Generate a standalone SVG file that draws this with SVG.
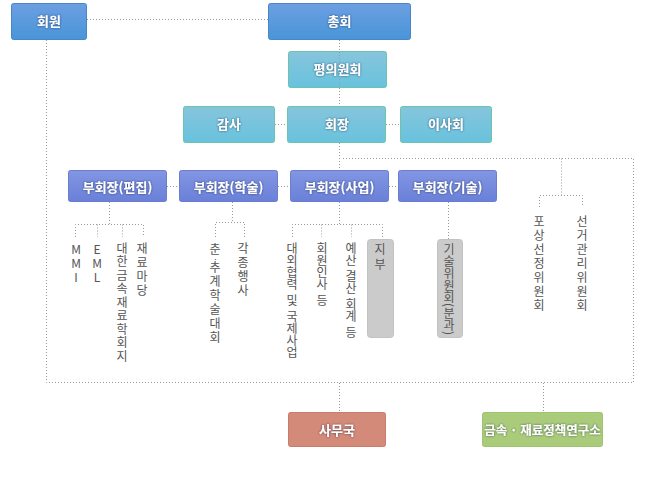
<svg xmlns="http://www.w3.org/2000/svg" width="650" height="478" viewBox="0 0 650 478">
<defs>
<linearGradient id="gBlue" x1="0" y1="0" x2="0" y2="1"><stop offset="0" stop-color="#6c9fe2"/><stop offset="1" stop-color="#4895d8"/></linearGradient>
<linearGradient id="gCyan" x1="0" y1="0" x2="0" y2="1"><stop offset="0" stop-color="#86c5dc"/><stop offset="1" stop-color="#68c2dd"/></linearGradient>
<linearGradient id="gViolet" x1="0" y1="0" x2="0" y2="1"><stop offset="0" stop-color="#8296e2"/><stop offset="1" stop-color="#6a80d8"/></linearGradient>
<filter id="sh" x="-20%" y="-40%" width="140%" height="180%"><feDropShadow dx="0" dy="0" stdDeviation="1" flood-color="#1a2a50" flood-opacity="0.75"/></filter>
</defs>
<style>
.blue{fill:url(#gBlue);stroke:#4a86c6;stroke-width:1}
.cyan{fill:url(#gCyan);stroke:#6cc4ae;stroke-width:1}
.violet{fill:url(#gViolet);stroke:#6a7dcf;stroke-width:1}
.red{fill:#d48a78;stroke:#c97c6b;stroke-width:1}
.green{fill:#aacc7a;stroke:#9dc46e;stroke-width:1}
.gray{fill:#cbcbcb;stroke:#c2c2c2;stroke-width:1}
.lbl{font-family:"Noto Sans CJK KR","Noto Sans",sans-serif;font-size:13px;font-weight:bold;fill:#fff;text-anchor:middle;dominant-baseline:central;filter:url(#sh)}
.vt{font-family:"Noto Sans CJK KR","Noto Sans",sans-serif;font-size:12px;fill:#555;writing-mode:vertical-rl}
.up{text-orientation:upright}
.ws{word-spacing:1.5px}
.dot{fill:none;stroke:#9a9a9a;stroke-width:1;stroke-dasharray:1 2}
</style>
<g id="n-member"><rect class="blue" x="11.5" y="3.5" width="75" height="36" rx="2"/><text class="lbl" x="49" y="20">회원</text></g>
<g id="n-general"><rect class="blue" x="268.5" y="3.5" width="142" height="36" rx="2"/><text class="lbl" x="339.5" y="20">총회</text></g>
<g id="n-council"><rect class="cyan" x="288.5" y="51.5" width="98" height="36" rx="2"/><text class="lbl" x="337.5" y="68">평의원회</text></g>
<g id="n-audit"><rect class="cyan" x="183.5" y="106.5" width="91" height="36" rx="2"/><text class="lbl" x="229" y="123">감사</text></g>
<g id="n-president"><rect class="cyan" x="287.5" y="106.5" width="98" height="36" rx="2"/><text class="lbl" x="337" y="123">회장</text></g>
<g id="n-board"><rect class="cyan" x="400.5" y="106.5" width="91" height="36" rx="2"/><text class="lbl" x="446" y="123">이사회</text></g>
<g id="n-vp-edit"><rect class="violet" x="68.5" y="170.5" width="98" height="31" rx="2"/><text class="lbl" x="117.5" y="186">부회장(편집)</text></g>
<g id="n-vp-acad"><rect class="violet" x="179.5" y="170.5" width="98" height="31" rx="2"/><text class="lbl" x="228.5" y="186">부회장(학술)</text></g>
<g id="n-vp-biz"><rect class="violet" x="290.5" y="170.5" width="98" height="31" rx="2"/><text class="lbl" x="339.5" y="186">부회장(사업)</text></g>
<g id="n-vp-tech"><rect class="violet" x="398.5" y="170.5" width="98" height="31" rx="2"/><text class="lbl" x="447.5" y="186">부회장(기술)</text></g>
<g id="n-office"><rect class="red" x="288.5" y="412.5" width="97" height="34" rx="2"/><text class="lbl" x="337" y="429.5">사무국</text></g>
<g id="n-institute"><rect class="green" x="482.5" y="412.5" width="120" height="34" rx="2"/><text class="lbl" x="542.5" y="429.5" style="font-size:12.5px">금속 · 재료정책연구소</text></g>
<g id="n-mmi"><text class="vt up" x="76" y="243" style="letter-spacing:2px">MMI</text></g>
<g id="n-eml"><text class="vt up" x="97" y="243" style="letter-spacing:2px">EML</text></g>
<g id="n-journal"><text class="vt" x="122" y="242" style="letter-spacing:1.5px">대한금속재료학회지</text></g>
<g id="n-madang"><text class="vt" x="142" y="242" style="letter-spacing:2px">재료마당</text></g>
<g id="n-conf"><text class="vt" x="215" y="243" style="letter-spacing:2px">춘<tspan style="font-size:9px;letter-spacing:-1px">·</tspan>추계학술대회</text></g>
<g id="n-events"><text class="vt" x="243" y="242" style="letter-spacing:2px">각종행사</text></g>
<g id="n-intl"><text class="vt ws" x="292" y="242">대외협력 및 국제사업</text></g>
<g id="n-hr"><text class="vt ws" x="322" y="242">회원인사 등</text></g>
<g id="n-budget"><text class="vt ws" x="351" y="242">예산 결산 회계 등</text></g>
<g id="n-branch"><rect class="gray" x="367.5" y="239.5" width="26" height="98" rx="3"/><text class="vt" x="380" y="243" style="letter-spacing:3px">지부</text></g>
<g id="n-techcomm"><rect class="gray" x="437.5" y="239.5" width="25" height="98" rx="3"/><text class="vt" x="449" y="243">기술위원회(분과)</text></g>
<g id="n-award"><text class="vt" x="539" y="215" style="letter-spacing:2px">포상선정위원회</text></g>
<g id="n-election"><text class="vt" x="582" y="215" style="letter-spacing:2px">선거관리위원회</text></g>
<g id="connectors">
<path class="dot" d="M87 19.5H268"/>
<path class="dot" d="M46.5 40V382.5H633.5V158.5H342"/>
<path class="dot" d="M339.5 40V106"/>
<path class="dot" d="M339.5 143V170"/>
<path class="dot" d="M275 124.5H287M386 124.5H400"/>
<path class="dot" d="M167 186.5H179M278 186.5H290M389 186.5H398"/>
<path class="dot" d="M109.5 202V224.5M75.5 237V224.5H143.5V237M97.5 224.5V237M122.5 224.5V237"/>
<path class="dot" d="M232.5 202V222.5M215.5 237V222.5H244.5V237"/>
<path class="dot" d="M339.5 202V224.5M292.5 237V224.5H382.5V239M321.5 224.5V237M351.5 224.5V237"/>
<path class="dot" d="M448.5 202V239"/>
<path class="dot" d="M561.5 158.5V195.5M539.5 207V195.5H582.5V207"/>
<path class="dot" d="M339.5 383V412M543.5 383V412"/>
</g>
</svg>
